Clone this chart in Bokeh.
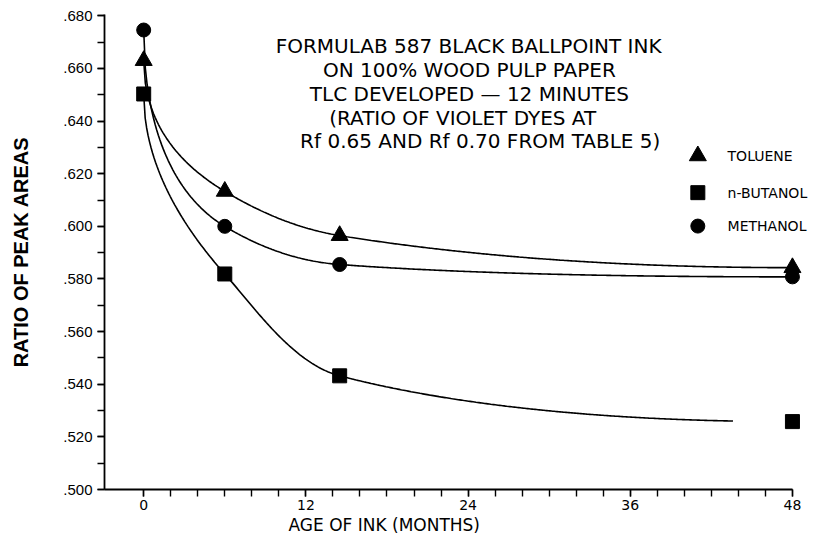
import numpy as np
from bokeh.plotting import figure
from bokeh.models import FixedTicker, CustomJSTickFormatter, Title
from bokeh.core.properties import value
from bokeh.embed import file_html
from bokeh.resources import INLINE

# Ink age (months) and ratio of violet-dye peak areas for each developing solvent
ages = [0, 6, 14.5, 48]
toluene = [0.663, 0.6133, 0.5965, 0.5843]
n_butanol = [0.6503, 0.5819, 0.5432, 0.5258]
methanol = [0.6746, 0.6000, 0.5855, 0.5808]

# the hand-fitted n-butanol curve stops short of the last point
butanol_curve_end = 43.6

x_ticks = [0, 12, 24, 36, 48]
x_minor = list(range(0, 49, 2))
y_ticks = [0.50, 0.52, 0.54, 0.56, 0.58, 0.60, 0.62, 0.64, 0.66, 0.68]
y_minor = [0.50 + 0.01 * i for i in range(19)]

title_lines = [
    "FORMULAB 587 BLACK BALLPOINT INK",
    "ON 100% WOOD PULP PAPER",
    "TLC DEVELOPED \u2014 12 MINUTES",
    "(RATIO OF VIOLET DYES AT",
    "Rf 0.65 AND Rf 0.70 FROM TABLE 5)",
]
legend_names = ["TOLUENE", "n-BUTANOL", "METHANOL"]
legend_markers = ["triangle", "square", "circle"]


def pchip(xk, yk, xq):
    """Monotone piecewise cubic Hermite interpolation (Fritsch-Carlson)."""
    xk = np.asarray(xk, float)
    yk = np.asarray(yk, float)
    h = np.diff(xk)
    d = np.diff(yk) / h
    n = len(xk)
    m = np.zeros(n)
    for k in range(1, n - 1):
        if d[k - 1] * d[k] > 0:
            w1 = 2 * h[k] + h[k - 1]
            w2 = h[k] + 2 * h[k - 1]
            m[k] = (w1 + w2) / (w1 / d[k - 1] + w2 / d[k])

    def end_slope(h0, h1, d0, d1):
        s = ((2 * h0 + h1) * d0 - h0 * d1) / (h0 + h1)
        if np.sign(s) != np.sign(d0):
            return 0.0
        if np.sign(d0) != np.sign(d1) and abs(s) > abs(3 * d0):
            return 3 * d0
        return s

    m[0] = end_slope(h[0], h[1], d[0], d[1])
    m[-1] = end_slope(h[-1], h[-2], d[-1], d[-2])
    idx = np.clip(np.searchsorted(xk, xq) - 1, 0, n - 2)
    t = (xq - xk[idx]) / h[idx]
    h00 = 2 * t**3 - 3 * t**2 + 1
    h10 = t**3 - 2 * t**2 + t
    h01 = -2 * t**3 + 3 * t**2
    h11 = t**3 - t**2
    return (h00 * yk[idx] + h10 * h[idx] * m[idx]
            + h01 * yk[idx + 1] + h11 * h[idx] * m[idx + 1])


def smooth(ys, x_end):
    # interpolate on sqrt(age) so the curves leave t=0 steeply
    xs = np.linspace(0, x_end, 400)
    return xs, pchip(np.sqrt(ages), ys, np.sqrt(xs))


# the frame runs to the right edge so the legend and last markers are not clipped;
# the x axis itself stops at 48 months
p = figure(
    width=816, height=534,
    x_range=(-2.9, 49.78), y_range=(0.500, 0.6805),
    output_backend="svg", toolbar_location=None,
    min_border_left=104, min_border_right=0,
    min_border_top=14, min_border_bottom=30,
)
p.outline_line_color = None
p.xgrid.visible = False
p.ygrid.visible = False
p.background_fill_color = "white"
p.border_fill_color = "white"

# axes
for ax in (p.xaxis[0], p.yaxis[0]):
    ax.axis_line_color = "black"
    ax.axis_line_width = 1.8
    ax.major_tick_line_color = "black"
    ax.minor_tick_line_color = "black"
    ax.major_tick_line_width = 1.4
    ax.minor_tick_line_width = 1.4
    ax.major_tick_in = 0
    ax.minor_tick_in = 0
    ax.major_tick_out = 7
    ax.minor_tick_out = 7
    ax.major_label_text_color = "black"

p.xaxis.bounds = (-2.9, 48)
p.xaxis.ticker = FixedTicker(ticks=x_ticks, minor_ticks=x_minor)
p.xaxis.major_label_text_font = "DejaVu Sans"
p.xaxis.major_label_text_font_size = "14px"
p.xaxis.major_label_standoff = 3

p.yaxis.ticker = FixedTicker(ticks=y_ticks, minor_ticks=y_minor)
p.yaxis.formatter = CustomJSTickFormatter(
    code="return tick.toFixed(3).replace(/^0/, '');")
p.yaxis.major_label_text_font = "Liberation Sans"
p.yaxis.major_label_text_font_size = "15px"
p.yaxis.major_label_standoff = 5
p.yaxis.axis_label = "RATIO OF PEAK AREAS"
p.yaxis.axis_label_text_font = "Liberation Sans"
p.yaxis.axis_label_text_font_style = "bold"
p.yaxis.axis_label_text_font_size = "20px"
p.yaxis.axis_label_text_color = "black"
p.yaxis.axis_label_standoff = 28

p.add_layout(Title(
    text="AGE OF INK (MONTHS)", align="left", offset=184,
    text_font="DejaVu Sans", text_font_size="17px",
    text_font_style="normal", text_color="black", standoff=0), "below")

# fitted curves
for ys, x_end in ((toluene, 48), (methanol, 48), (n_butanol, butanol_curve_end)):
    cx, cy = smooth(ys, x_end)
    p.line(cx, cy, line_color="black", line_width=1.6)

# data points
p.scatter(ages, toluene, marker="triangle", size=17, color="black")
p.scatter(ages, n_butanol, marker="square", size=14, color="black")
p.scatter(ages, methanol, marker="circle", size=14, color="black")

# title block
title_x = [24.04, 24.1, 24.1, 23.6, 24.9]
title_y = [0.6687, 0.6595, 0.6502, 0.6410, 0.6325]
for txt, tx, ty in zip(title_lines, title_x, title_y):
    p.text([tx], [ty], text=[txt], text_font=value("DejaVu Sans"),
           text_font_size="20px", text_align="center",
           text_baseline="middle", text_color="black")

# legend
legend_y = [0.6268, 0.6128, 0.6001]
legend_sizes = [17, 14, 14]
for name, mk, ly, sz in zip(legend_names, legend_markers, legend_y, legend_sizes):
    p.scatter([41.0], [ly], marker=mk, size=sz, color="black")
    p.text([43.2], [ly], text=[name], text_font=value("DejaVu Sans"),
           text_font_size="14px", text_align="left",
           text_baseline="middle", text_color="black")

open("out.html", "w").write(file_html(p, INLINE))
